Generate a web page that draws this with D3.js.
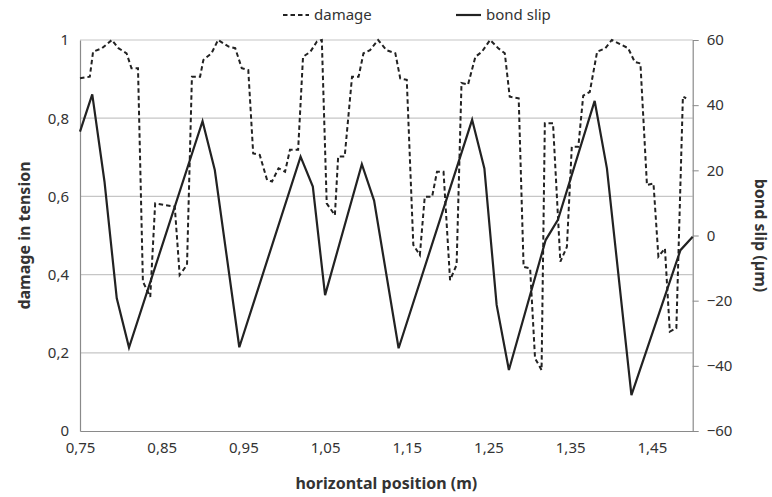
<!DOCTYPE html>
<html>
<head>
<meta charset="utf-8">
<script src="https://cdn.jsdelivr.net/npm/d3@7"></script>
<style>
body { margin: 0; background: #fff; }
text { font-family: "Noto Sans", sans-serif; fill: #333; }
</style>
</head>
<body>
<div id="canvas"></div>
<script>

// damage in tension (left axis)
var damageX = [0.75, 0.762, 0.766, 0.777, 0.789, 0.797, 0.807, 0.813, 0.821, 0.827, 0.836, 0.842, 0.866, 0.872,
    0.881, 0.887, 0.897, 0.901, 0.911, 0.919, 0.932, 0.94, 0.948, 0.956, 0.962, 0.97, 0.979, 0.985, 0.993,
    1.001, 1.007, 1.017, 1.023, 1.032, 1.04, 1.046, 1.052, 1.062, 1.066, 1.074, 1.083, 1.091, 1.097, 1.105,
    1.115, 1.125, 1.136, 1.142, 1.15, 1.158, 1.166, 1.172, 1.181, 1.187, 1.195, 1.203, 1.211, 1.217, 1.225,
    1.234, 1.242, 1.252, 1.262, 1.27, 1.276, 1.287, 1.293, 1.301, 1.307, 1.315, 1.319, 1.329, 1.338, 1.346,
    1.352, 1.36, 1.366, 1.374, 1.383, 1.393, 1.401, 1.421, 1.429, 1.436, 1.444, 1.452, 1.458, 1.466, 1.472,
    1.48, 1.488, 1.492];
var damage = [0.902, 0.906, 0.97, 0.979, 1.0, 0.979, 0.966, 0.928, 0.928, 0.382, 0.343, 0.582, 0.574, 0.399,
    0.425, 0.906, 0.906, 0.949, 0.966, 1.0, 0.983, 0.979, 0.928, 0.923, 0.71, 0.706, 0.642, 0.638, 0.672,
    0.663, 0.719, 0.719, 0.957, 0.97, 0.996, 1.0, 0.582, 0.552, 0.702, 0.702, 0.906, 0.906, 0.966, 0.974,
    1.0, 0.974, 0.966, 0.902, 0.898, 0.476, 0.45, 0.599, 0.599, 0.663, 0.663, 0.386, 0.425, 0.89, 0.886,
    0.957, 0.97, 1.0, 0.979, 0.966, 0.855, 0.851, 0.42, 0.416, 0.186, 0.156, 0.787, 0.787, 0.433, 0.471,
    0.727, 0.727, 0.858, 0.867, 0.97, 0.979, 1.0, 0.979, 0.944, 0.94, 0.629, 0.633, 0.446, 0.467, 0.254,
    0.263, 0.855, 0.851];

// bond slip in µm (right axis)
var slipX = [0.75, 0.765, 0.78, 0.795, 0.81, 0.9, 0.915, 0.945, 1.02, 1.035, 1.05, 1.095, 1.11, 1.14,
    1.23, 1.245, 1.26, 1.275, 1.32, 1.335, 1.38, 1.395, 1.425, 1.485, 1.5];
var slip = [31.9, 43.3, 16.5, -19.3, -34.4, 35.1, 20.1, -34.3, 24.2, 15.0, -18.3, 21.9, 10.7, -34.6,
    35.5, 20.6, -21.3, -41.3, -1.4, 4.8, 41.3, 20.6, -49, -4.5, -0.4];

var xTicks = [0.75, 0.85, 0.95, 1.05, 1.15, 1.25, 1.35, 1.45];
var leftTicks = [0, 0.2, 0.4, 0.6, 0.8, 1];
var rightTicks = [-60, -40, -20, 0, 20, 40, 60];

var locale = d3.formatLocale({decimal: ",", thousands: ".", grouping: [3], currency: ["", ""]});

var margin = {top: 40, right: 79.3, bottom: 66, left: 80};
var width = 772 - margin.left - margin.right;
var height = 497 - margin.top - margin.bottom;

var svg = d3.select("#canvas").append("svg")
    .attr("width", 772)
    .attr("height", 497)
    .append("g")
    .attr("transform", "translate(" + margin.left + "," + margin.top + ")");

var x = d3.scaleLinear().domain([0.75, 1.5]).range([0, width]);
var y = d3.scaleLinear().domain([0, 1]).range([height, 0]);
var y2 = d3.scaleLinear().domain([-60, 60]).range([height, 0]);

// gridlines
svg.selectAll(".grid")
    .data(leftTicks.slice(1))
    .enter().append("line")
    .attr("x1", 0).attr("x2", width)
    .attr("y1", function (d) { return y(d); })
    .attr("y2", function (d) { return y(d); })
    .attr("stroke", "#c6c6c6")
    .attr("stroke-width", 1.2);

// left axis
var gl = svg.append("g")
    .call(d3.axisLeft(y).tickValues(leftTicks).tickSize(0).tickPadding(11)
        .tickFormat(locale.format(".1~f")));
gl.select(".domain").attr("stroke", "#8a8a8a").attr("stroke-width", 1.2);
gl.selectAll("text").attr("font-size", "15px").attr("fill", "#333");

// right axis
var gr = svg.append("g")
    .attr("transform", "translate(" + width + ",0)")
    .call(d3.axisRight(y2).tickValues(rightTicks).tickSizeInner(6).tickSizeOuter(0).tickPadding(8)
        .tickFormat(locale.format(".0f")));
gr.select(".domain").attr("stroke", "#8a8a8a").attr("stroke-width", 1.2);
gr.selectAll("line").attr("stroke", "#8a8a8a");
gr.selectAll("text").attr("font-size", "15px").attr("fill", "#333");

// bottom axis
var gb = svg.append("g")
    .attr("transform", "translate(0," + height + ")")
    .call(d3.axisBottom(x).tickValues(xTicks).tickSize(0).tickPadding(11)
        .tickFormat(locale.format(".2f")));
gb.select(".domain").attr("stroke", "#8a8a8a").attr("stroke-width", 1.2);
gb.selectAll("text").attr("font-size", "15px").attr("fill", "#333");

// damage line
var damageLine = d3.line()
    .x(function (d, i) { return x(damageX[i]); })
    .y(function (d) { return y(d); });

svg.append("path")
    .datum(damage)
    .attr("d", damageLine)
    .attr("fill", "none")
    .attr("stroke", "#222")
    .attr("stroke-width", 2)
    .attr("stroke-dasharray", "4.5,3");

// bond slip line
var slipLine = d3.line()
    .x(function (d, i) { return x(slipX[i]); })
    .y(function (d) { return y2(d); });

svg.append("path")
    .datum(slip)
    .attr("d", slipLine)
    .attr("fill", "none")
    .attr("stroke", "#222")
    .attr("stroke-width", 2.2);

// axis titles
svg.append("text")
    .attr("transform", "translate(-50," + (height / 2) + ") rotate(-90)")
    .attr("text-anchor", "middle")
    .attr("font-size", "16px")
    .attr("font-weight", "bold")
    .text("damage in tension");

svg.append("text")
    .attr("transform", "translate(" + (width + 62) + "," + (height / 2) + ") rotate(90)")
    .attr("text-anchor", "middle")
    .attr("font-size", "16px")
    .attr("font-weight", "bold")
    .text("bond slip (µm)");

svg.append("text")
    .attr("x", width / 2)
    .attr("y", height + 58)
    .attr("text-anchor", "middle")
    .attr("font-size", "16px")
    .attr("font-weight", "bold")
    .text("horizontal position (m)");

// legend
var legend = d3.select("svg").append("g");
legend.append("line")
    .attr("x1", 283).attr("x2", 309).attr("y1", 15).attr("y2", 15)
    .attr("stroke", "#222").attr("stroke-width", 2).attr("stroke-dasharray", "4.5,3");
legend.append("text")
    .attr("x", 314).attr("y", 20)
    .attr("font-size", "15px")
    .text("damage");
legend.append("line")
    .attr("x1", 456).attr("x2", 481).attr("y1", 15).attr("y2", 15)
    .attr("stroke", "#222").attr("stroke-width", 2.2);
legend.append("text")
    .attr("x", 486).attr("y", 20)
    .attr("font-size", "15px")
    .text("bond slip");

</script>
</body>
</html>
